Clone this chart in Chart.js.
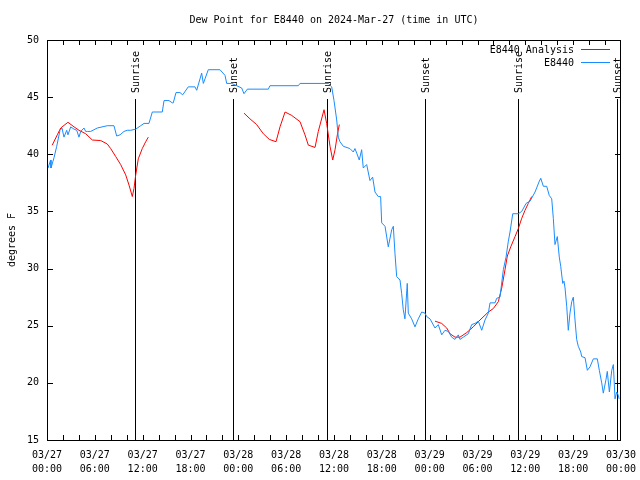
<!DOCTYPE html>
<html>
<head>
<meta charset="utf-8">
<script src="https://cdn.jsdelivr.net/npm/chart.js@4"></script>
<style>html,body{margin:0;padding:0;background:#fff}</style>
</head>
<body>
<canvas id="chart" width="640" height="480"></canvas>
<script>
const titleText = 'Dew Point for E8440 on 2024-Mar-27 (time in UTC)';
const yTitle = 'degrees F';
const obsName = 'E8440';
const anaName = 'E8440 Analysis';

// hours since 03/27 00:00 UTC
const obsHours = [0.13,0.46,0.5,0.88,1.22,1.63,1.88,2.13,2.47,2.63,
  2.97,3.39,3.73,4.01,4.23,4.64,4.85,5.06,5.48,6.31,
  7.56,8.4,8.74,9.16,9.66,10.07,10.5,11.13,11.75,12.17,
  12.79,13.21,14.46,14.68,15.3,15.72,15.84,16.18,16.68,17.02,
  17.72,18.56,18.78,19.4,19.61,19.82,20.23,21.7,22.33,22.54,
  23.17,24.42,24.71,25.13,27.76,27.97,31.52,31.74,35.28,35.71,
  36.0,36.34,36.54,36.75,37.17,38.0,38.42,38.63,38.85,39.17,
  39.47,39.67,40.1,40.51,40.85,41.14,41.55,41.85,41.98,42.4,
  42.81,43.24,43.44,43.65,43.86,44.28,44.49,44.69,44.9,45.19,
  45.32,45.74,46.16,46.57,47.0,47.41,47.63,48.04,48.67,49.08,
  49.51,49.92,50.34,50.76,51.18,51.59,51.8,52.22,52.85,53.27,
  53.69,54.1,54.53,54.94,55.36,55.57,56.2,56.41,56.82,57.24,
  57.58,57.87,58.08,58.42,59.12,59.55,60.09,60.59,61.22,61.84,
  61.93,62.26,62.68,63.0,63.31,63.51,63.72,64.01,64.26,64.44,
  64.69,64.85,64.98,65.19,65.39,65.6,65.82,66.02,66.23,66.44,
  66.64,66.95,67.07,67.49,67.78,68.11,68.53,69.03,69.28,69.58,
  69.78,70.12,70.28,70.54,70.84,71.04,71.25,71.46,71.67,71.76];
const obsDew = [38.8,39.5,38.8,39.7,40.7,42.1,42.3,41.5,42.1,41.7,
  42.4,42.2,42.1,41.5,42.0,42.3,42.0,42.0,42.0,42.3,
  42.5,42.5,41.6,41.7,42.0,42.1,42.1,42.2,42.5,42.7,
  42.7,43.7,43.7,44.7,44.7,44.5,44.5,45.4,45.4,45.2,
  45.9,45.9,45.6,47.1,46.2,46.6,47.4,47.4,46.9,46.2,
  46.2,45.8,45.3,45.7,45.7,46.0,46.0,46.2,46.2,45.9,
  44.7,43.0,41.5,41.1,40.7,40.5,40.2,40.5,40.1,39.5,
  40.4,38.8,39.1,37.7,38.0,36.7,36.3,36.3,34.0,33.7,
  31.9,33.4,33.7,31.3,29.3,29.0,27.8,26.4,25.6,28.7,
  26.1,25.6,24.9,25.6,26.2,26.1,25.8,25.6,24.8,25.1,
  24.2,24.6,24.5,24.0,23.8,24.2,23.8,24.0,24.3,25.1,
  25.2,25.4,24.6,25.5,26.1,27.0,27.0,27.4,27.5,29.9,
  31.0,32.4,33.2,34.8,34.8,35.0,35.7,35.9,36.7,37.8,
  37.9,37.2,37.2,36.4,36.1,34.4,32.1,32.8,31.0,30.2,
  28.7,28.9,28.3,26.7,24.6,26.1,27.1,27.5,25.5,23.8,
  23.2,22.7,22.3,22.2,21.1,21.4,22.1,22.1,21.1,20.0,
  19.1,20.3,21.0,19.2,21.1,21.6,18.6,19.2,18.9,18.6];

// analysis, null = gap
const anaHours = [0.66,1.29,1.72,2.63,3.39,4.01,4.85,5.68,6.74,7.56,
  7.99,8.62,9.24,9.87,10.29,10.7,10.91,11.13,11.45,11.95,12.38,12.71,
  18.7,
  24.71,25.46,26.3,27.13,27.89,28.73,29.23,29.86,30.7,31.74,
  32.36,32.78,33.62,34.03,34.75,35.08,35.5,35.84,36.13,36.42,36.67,
  42.0,
  48.67,49.51,50.14,50.55,51.18,51.8,52.65,53.47,54.31,55.36,
  55.98,56.61,57.04,57.45,57.74,58.17,58.71,59.12,59.55,59.96,60.37,60.8];
const anaDew = [40.8,41.7,42.3,42.8,42.4,42.1,41.8,41.25,41.2,40.9,
  40.5,39.8,39.1,38.2,37.3,36.3,37.0,38.2,39.6,40.5,41.1,41.5,
  null,
  43.6,43.1,42.6,41.8,41.3,41.1,42.4,43.7,43.4,42.85,
  41.7,40.8,40.6,42.0,43.9,42.7,40.7,39.5,40.4,41.7,42.6,
  null,
  25.4,25.2,24.8,24.3,24.0,24.0,24.4,24.9,25.5,26.2,
  26.5,27.1,28.3,29.9,31.1,31.9,32.8,33.5,34.4,35.1,35.7,36.3];

const sunHours = [11.08, 23.38, 35.08, 47.47, 59.14, 71.56];
const sunLabels = ['Sunrise','Sunset','Sunrise','Sunset','Sunrise','Sunset'];

const xTickDates = ['03/27','03/27','03/27','03/27','03/28','03/28','03/28','03/28','03/29','03/29','03/29','03/29','03/30'];
const xTickTimes = ['00:00','06:00','12:00','18:00','00:00','06:00','12:00','18:00','00:00','06:00','12:00','18:00','00:00'];

const FONT = '10px "DejaVu Sans Mono"';
const toPoints = (xs, ys) => xs.map((x, i) => ({x: x, y: ys[i]}));

const frame = {
  id: 'frame',
  beforeDatasetsDraw(chart) {
    const {ctx, chartArea: a, scales: {x}} = chart;
    ctx.save();
    ctx.strokeStyle = '#000';
    ctx.fillStyle = '#000';
    ctx.lineWidth = 1;
    ctx.font = FONT;
    sunHours.forEach((h, i) => {
      const px = Math.round(x.getPixelForValue(h)) + 0.5;
      ctx.beginPath();
      ctx.moveTo(px, a.top + 59);
      ctx.lineTo(px, a.bottom);
      ctx.stroke();
      ctx.save();
      ctx.translate(px + 1, a.top + 53);
      ctx.rotate(-Math.PI / 2);
      ctx.textAlign = 'left';
      ctx.textBaseline = 'middle';
      ctx.fillText(sunLabels[i], 0, 0);
      ctx.restore();
    });
    ctx.restore();
  },
  afterDraw(chart) {
    const {ctx, chartArea: a, scales: {x, y}} = chart;
    ctx.save();
    ctx.strokeStyle = '#000';
    ctx.fillStyle = '#000';
    ctx.lineWidth = 1;
    ctx.strokeRect(a.left + 0.5, a.top + 0.5, a.right - a.left - 1, a.bottom - a.top);
    ctx.beginPath();
    for (let h = 2; h < 72; h += 2) {
      const px = Math.round(x.getPixelForValue(h)) + 0.5;
      ctx.moveTo(px, a.bottom); ctx.lineTo(px, a.bottom - 5);
      ctx.moveTo(px, a.top); ctx.lineTo(px, a.top + 5);
    }
    for (let v = 20; v < 50; v += 5) {
      const py = Math.round(y.getPixelForValue(v)) + 0.5;
      ctx.moveTo(a.left, py); ctx.lineTo(a.left + 6, py);
      ctx.moveTo(a.right, py); ctx.lineTo(a.right - 6, py);
    }
    ctx.stroke();

    ctx.font = FONT;
    ctx.textBaseline = 'middle';
    ctx.textAlign = 'center';
    ctx.fillText(titleText, (a.left + a.right) / 2, 20);

    ctx.save();
    ctx.translate(12, (a.top + a.bottom) / 2);
    ctx.rotate(-Math.PI / 2);
    ctx.fillText(yTitle, 0, 0);
    ctx.restore();

    // legend
    ctx.textAlign = 'right';
    ctx.fillText(anaName, 574, 50);
    ctx.fillText(obsName, 574, 63);
    ctx.strokeStyle = '#ff0000';
    ctx.beginPath(); ctx.moveTo(581, 49.5); ctx.lineTo(610, 49.5); ctx.stroke();
    ctx.strokeStyle = '#1a8cff';
    ctx.beginPath(); ctx.moveTo(581, 62.5); ctx.lineTo(610, 62.5); ctx.stroke();
    ctx.restore();
  }
};

new Chart(document.getElementById('chart'), {
  type: 'line',
  data: {
    datasets: [
      {label: obsName, data: toPoints(obsHours, obsDew), borderColor: '#1a8cff', borderWidth: 1, pointRadius: 0, order: 0},
      {label: anaName, data: toPoints(anaHours, anaDew), borderColor: '#ff0000', borderWidth: 1, pointRadius: 0, order: 1, spanGaps: false}
    ]
  },
  options: {
    responsive: false,
    animation: false,
    devicePixelRatio: 1,
    layout: {padding: {top: 40, right: 19, left: 0, bottom: 0}},
    plugins: {legend: {display: false}, title: {display: false}, tooltip: {enabled: false}},
    scales: {
      x: {
        type: 'linear', min: 0, max: 72,
        grid: {display: false, drawTicks: false}, border: {display: false},
        afterFit(s) { s.height = 40; s.paddingLeft = 0; s.paddingRight = 0; },
        ticks: {
          stepSize: 6, autoSkip: false, maxRotation: 0, padding: 8, color: '#000',
          font: {family: 'DejaVu Sans Mono', size: 10, lineHeight: 1.4},
          callback: (v, i) => [xTickDates[i], xTickTimes[i]]
        }
      },
      y: {
        min: 15, max: 50,
        grid: {display: false, drawTicks: false}, border: {display: false},
        afterFit(s) { s.width = 47; s.paddingTop = 0; s.paddingBottom = 0; },
        ticks: {stepSize: 5, padding: 8, color: '#000', font: {family: 'DejaVu Sans Mono', size: 10}}
      }
    }
  },
  plugins: [frame]
});
</script>
</body>
</html>
